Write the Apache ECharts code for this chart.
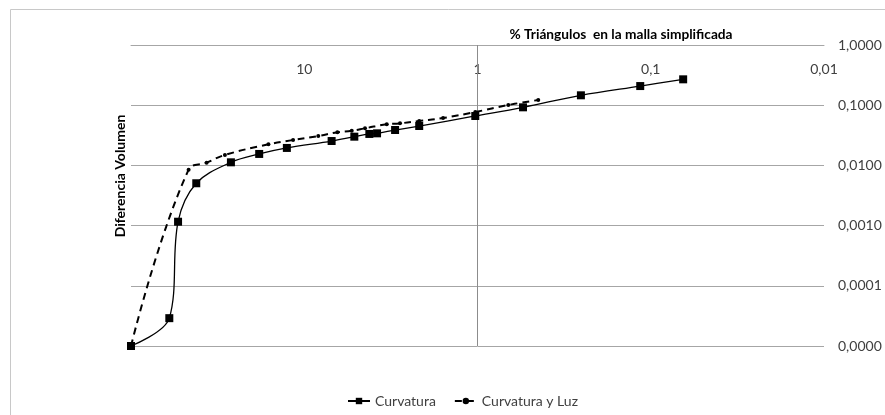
<!DOCTYPE html>
<html>
<head>
<meta charset="utf-8">
<script src="https://cdn.jsdelivr.net/npm/echarts@6/dist/echarts.min.js"></script>
<style>
  html, body { margin: 0; padding: 0; background: #fff; }
  #chart { width: 885px; height: 415px; }
</style>
</head>
<body>
<div id="chart"></div>
<script>
// % triangulos (x) y diferencia de volumen (y)
var curvaturaX = [100, 60.1, 53.5, 42, 26.5, 18.2, 12.6, 6.95, 5.14, 4.21, 3.8, 2.99, 2.17, 1.03, 0.546, 0.253, 0.115, 0.065];
var curvaturaY = [0.00001, 0.000029, 0.00116, 0.00505, 0.01125, 0.0155, 0.0195, 0.0254, 0.030, 0.0333, 0.0341, 0.0387, 0.0451, 0.0662, 0.0922, 0.146, 0.208, 0.269];

var luzX = [100, 46.5, 36.6, 28.7, 16.1, 11.6, 8.3, 6.44, 5.32, 4.46, 3.34, 2.8, 2.17, 1.58, 1.03, 0.664, 0.446];
var luzY = [0.00001, 0.0085, 0.0111, 0.0149, 0.0224, 0.0264, 0.0308, 0.0355, 0.0377, 0.0413, 0.0482, 0.050, 0.0547, 0.0613, 0.077, 0.1007, 0.122];

var seriesNames = ['Curvatura', 'Curvatura y Luz'];
var xTitle = '% Triángulos  en la malla simplificada';
var yTitle = 'Diferencia Volumen';

function pairs(xs, ys) {
    var out = [];
    for (var i = 0; i < xs.length; i++) out.push([xs[i], ys[i]]);
    return out;
}

var font = 'Lato, "Liberation Sans", sans-serif';
var mychart = echarts.init(document.getElementById('chart'));

var option = {
    backgroundColor: '#ffffff',
    animation: false,
    textStyle: { fontFamily: font },
    grid: { left: 131, right: 61, top: 45, bottom: 69 },
    graphic: [
        {
            type: 'rect',
            shape: { x: 10.5, y: 9.5, width: 900, height: 420 },
            style: { fill: 'none', stroke: '#c8c8c8', lineWidth: 1 },
            silent: true
        },
        {
            type: 'text',
            x: 621, y: 35,
            style: {
                text: xTitle, fontFamily: font, fontWeight: 'bold', fontSize: 13.7,
                fill: '#000', align: 'center', verticalAlign: 'middle'
            }
        },
        {
            type: 'text',
            x: 120, y: 176,
            rotation: Math.PI / 2,
            style: {
                text: yTitle, fontFamily: font, fontWeight: 'bold', fontSize: 14,
                fill: '#000', align: 'center', verticalAlign: 'middle'
            }
        }
    ],
    legend: {
        left: 342,
        top: 389,
        itemWidth: 22,
        itemHeight: 8,
        itemGap: 18,
        textStyle: { fontFamily: font, fontSize: 14, color: '#404040' },
        data: seriesNames
    },
    xAxis: {
        type: 'log',
        logBase: 10,
        min: 0.01,
        max: 100,
        inverse: true,
        position: 'top',
        axisLine: { show: true, lineStyle: { color: '#a6a6a6' } },
        axisTick: { show: false },
        splitLine: { show: false },
        axisLabel: {
            inside: true,
            margin: 17,
            fontSize: 14,
            color: '#404040',
            showMaxLabel: true,
            formatter: function (v) {
                var n = Number(Number(v).toPrecision(6));
                if (n >= 100) return '';
                return String(n).replace('.', ',');
            }
        }
    },
    yAxis: {
        type: 'log',
        logBase: 10,
        min: 0.00001,
        max: 1,
        position: 'right',
        axisLine: { show: false },
        axisTick: { show: false },
        splitLine: { show: true, lineStyle: { color: '#a6a6a6', width: 1 } },
        axisLabel: {
            margin: 14,
            fontSize: 14,
            color: '#404040',
            formatter: function (v) {
                return Number(v).toFixed(4).replace('.', ',');
            }
        }
    },
    series: [
        {
            name: seriesNames[0],
            type: 'line',
            data: pairs(curvaturaX, curvaturaY),
            smooth: 0.35,
            symbol: 'rect',
            symbolSize: 8,
            itemStyle: { color: '#000' },
            lineStyle: { color: '#000', width: 1.3 },
            z: 3,
            markLine: {
                silent: true,
                symbol: ['none', 'none'],
                label: { show: false },
                lineStyle: { color: '#8c8c8c', type: 'solid', width: 1 },
                data: [{ xAxis: 1 }],
                z: 1
            }
        },
        {
            name: seriesNames[1],
            type: 'line',
            data: pairs(luzX, luzY),
            smooth: 0.45,
            symbol: 'circle',
            symbolSize: 4,
            itemStyle: { color: '#000' },
            lineStyle: { color: '#000', width: 2, type: [7, 5] },
            z: 2
        }
    ]
};

mychart.setOption(option);
</script>
</body>
</html>
